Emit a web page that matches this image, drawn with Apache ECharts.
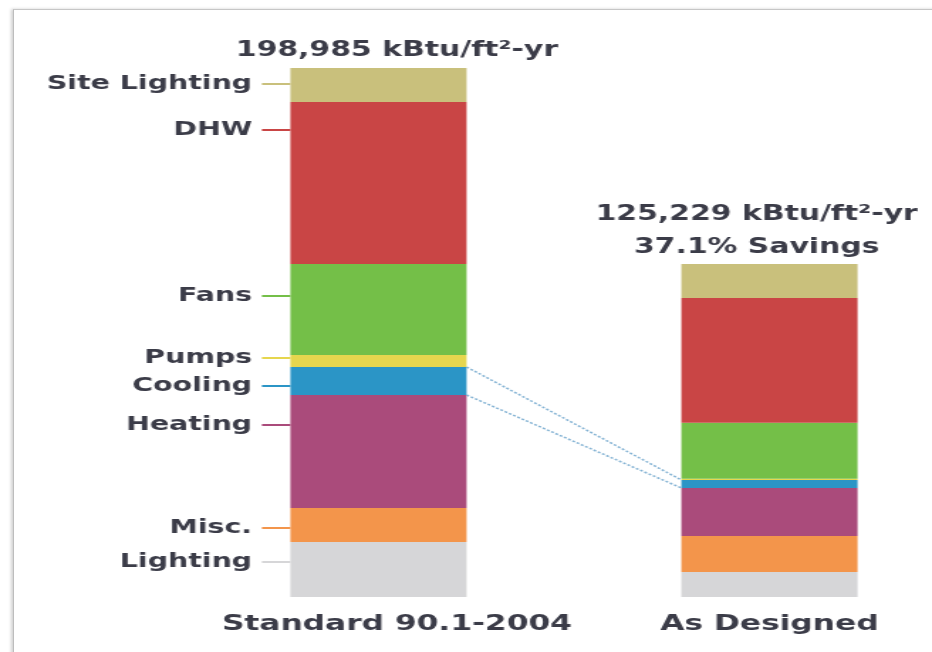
<!DOCTYPE html>
<html>
<head>
<meta charset="utf-8">
<script src="https://cdn.jsdelivr.net/npm/echarts@6/dist/echarts.min.js"></script>
<style>
  html, body { margin: 0; padding: 0; background: #ffffff; overflow: hidden; }
  #wrap { width: 932px; height: 652px; overflow: hidden; position: relative; background: #ffffff; }
  /* card frame: only its top and left edges fall inside the view */
  #frame { position: absolute; left: 13px; top: 9px; width: 1200px; height: 1200px;
           border-top: 1px solid #c6c6c6; border-left: 1px solid #bdbdbd;
           box-shadow: -2px 0 3px rgba(0,0,0,0.18); pointer-events: none; z-index: 2; }
  /* the artwork uses a wide geometric face; the canvas is drawn narrow and stretched */
  #chart { position: absolute; left: 0; top: 0; width: 660px; height: 652px;
           transform: scaleX(1.4207); transform-origin: 0 0; z-index: 1; }
</style>
</head>
<body>
<div id="wrap"><div id="chart"></div><div id="frame"></div></div>
<script>
// ---- data (kBtu/ft²-yr by end use, bottom of stack first) ----
const categories = ['Standard 90.1-2004', 'As Designed'];
const endUses = ['Lighting', 'Misc.', 'Heating', 'Cooling', 'Pumps', 'Fans', 'DHW', 'Site Lighting'];
const standardValues = [20690, 12790, 42510, 10530, 4510, 34230, 60935, 12790];
const designedValues = [9400, 13550, 18060, 3010, 500, 21070, 46849, 12790];
const unitText = 'kBtu/ft²-yr';

// ---- styling ----
const colors = ['#d6d6d8', '#f3954b', '#aa4b7b', '#2b95c6', '#e6d64e', '#74bf48', '#c94545', '#c9c07c'];
const labelCenterY = [562, 528, 425, 386, 358, 296, 130, 84];   // end-use names beside the first column
const BAR_W = 124;
const FONT = '"DejaVu Sans", Verdana, sans-serif';
const TEXT = '#3b3c48';

const sum = a => a.reduce((s, v) => s + v, 0);
const stdTotal = sum(standardValues);
const desTotal = sum(designedValues);
const savingsPct = (1 - desTotal / stdTotal) * 100;
const fmt = n => n.toLocaleString('en-US');

const chart = echarts.init(document.getElementById('chart'), null, { renderer: 'canvas' });

const stackSeries = endUses.map((name, i) => ({
  name: name,
  type: 'bar',
  stack: 'energy',
  barWidth: BAR_W,
  silent: true,
  itemStyle: { color: colors[i] },
  label: { show: false },
  labelLine: { show: true, length: 0, lineStyle: { color: colors[i], width: 2 } },
  labelLayout: function (p) {
    if (p.dataIndex !== 0) return {};
    return { dy: labelCenterY[i] - (p.rect.y + p.rect.height / 2) };
  },
  data: [
    {
      value: standardValues[i],
      label: {
        show: true, position: 'left', distance: 20,
        formatter: name + ' ',
        fontFamily: FONT, fontSize: 20, fontWeight: 'bold', color: TEXT
      }
    },
    { value: designedValues[i] }
  ]
}));

// zero-height cap carrying the column totals
const totalSeries = {
  name: 'Total',
  type: 'bar',
  stack: 'energy',
  barWidth: BAR_W,
  silent: true,
  itemStyle: { color: 'rgba(0,0,0,0)' },
  data: [
    {
      value: 0,
      label: {
        show: true, position: 'top', distance: 1, offset: [13, 0],
        formatter: fmt(stdTotal) + ' ' + unitText,
        fontFamily: FONT, fontSize: 21, fontWeight: 'bold', color: TEXT, lineHeight: 33
      }
    },
    {
      value: 0,
      label: {
        show: true, position: 'top', distance: 0, offset: [-9, 0],
        formatter: fmt(desTotal) + ' ' + unitText + '\n' + savingsPct.toFixed(1) + '% Savings',
        fontFamily: FONT, fontSize: 21, fontWeight: 'bold', color: TEXT, lineHeight: 33, align: 'center'
      }
    }
  ]
};

chart.setOption({
  animation: false,
  backgroundColor: '#ffffff',
  grid: { left: 266.4, right: 118.4, top: 68, bottom: 55, containLabel: false },
  xAxis: {
    type: 'category',
    data: categories,
    boundaryGap: false,
    axisLine: { show: false },
    axisTick: { show: false },
    splitLine: { show: false },
    axisLabel: {
      margin: 16, interval: 0,
      fontFamily: FONT, fontSize: 22, fontWeight: 'bold', color: TEXT,
      formatter: (v, idx) => idx === 0 ? '{std|' + v + '}' : v,
      rich: { std: { fontFamily: FONT, fontSize: 22, fontWeight: 'bold', color: TEXT, padding: [0, 0, 0, 26] } }
    }
  },
  yAxis: { type: 'value', min: 0, max: stdTotal, show: false, splitLine: { show: false } },
  series: stackSeries.concat([totalSeries])
});

// guide lines joining the Cooling slice of both columns
const coolIdx = endUses.indexOf('Cooling');
const below = (arr, k) => sum(arr.slice(0, k));
const sLow = below(standardValues, coolIdx), sHigh = sLow + standardValues[coolIdx];
const dLow = below(designedValues, coolIdx), dHigh = dLow + designedValues[coolIdx];
const px = (cat, v) => chart.convertToPixel({ gridIndex: 0 }, [cat, v]);
const half = BAR_W / 2;
const connector = (vs, vd) => {
  const a = px(0, vs), b = px(1, vd);
  return {
    type: 'line', silent: true, z: 5,
    shape: { x1: a[0] + half, y1: a[1], x2: b[0] - half, y2: b[1] },
    style: { stroke: '#6ea6cc', lineWidth: 1.5, lineDash: [2, 1.5], opacity: 0.85 }
  };
};

chart.setOption({ graphic: [connector(sHigh, dHigh), connector(sLow, dLow)] });
</script>
</body>
</html>
